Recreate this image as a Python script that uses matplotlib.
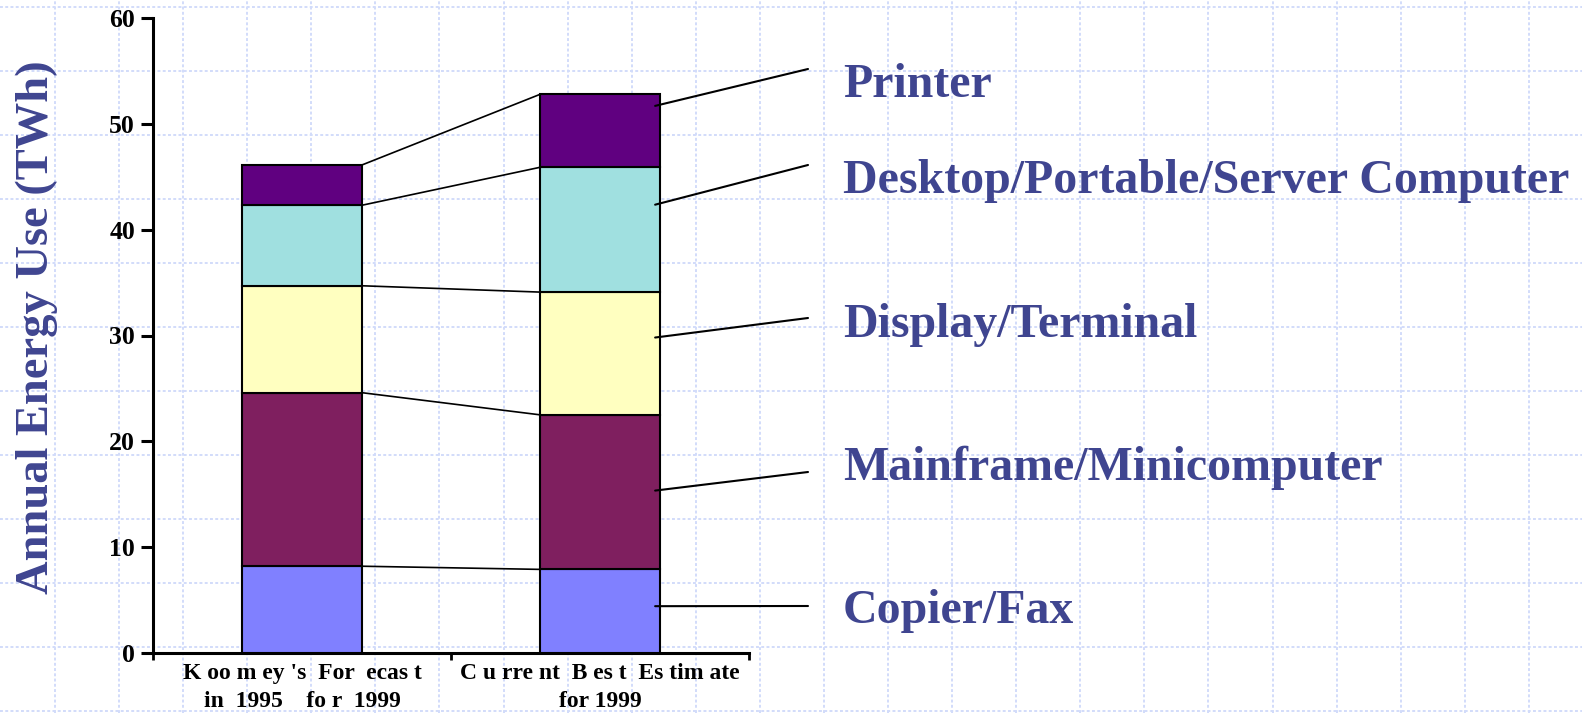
import numpy as np
import matplotlib.pyplot as plt

# data (TWh)
categories = ["K oo m ey 's  For  ecas t\nin  1995    fo r  1999",
              "C u rre nt  B es t  Es tim ate\nfor 1999"]
segments = ["Copier/Fax", "Mainframe/Minicomputer", "Display/Terminal",
            "Desktop/Portable/Server Computer", "Printer"]
copier = [8.2, 7.9]
mainframe = [16.4, 14.6]
display = [10.1, 11.6]
desktop = [7.6, 11.8]
printer = [3.8, 6.9]
yticks = [0, 10, 20, 30, 40, 50, 60]

colors = ['#8080FF', '#7F1F5F', '#FFFFC0', '#A0E0E0', '#600080']
label_color = '#3F4590'
serif = 'Liberation Serif'

W, H = 1582, 713
fig = plt.figure(figsize=(W / 100, H / 100), dpi=100)

# slide background grid
bg = fig.add_axes([0, 0, 1, 1], zorder=0)
bg.set_xlim(0, W)
bg.set_ylim(H, 0)
bg.axis('off')
for x in np.arange(55, W, 64.08):
    bg.axvline(x, color='#D2DCFA', lw=1.4, ls=(0, (1.5, 1.2)))
for y in np.arange(7, H + 2, 64.0):
    bg.axhline(y, color='#D2DCFA', lw=1.4, ls=(0, (1.5, 1.2)))

ax = fig.add_axes([153 / W, 1 - 653 / H, (749 - 153) / W, (653 - 18) / H], zorder=1)
ax.set_facecolor('none')

values = [copier, mainframe, display, desktop, printer]
x = np.arange(len(categories))
bw = 0.4
bottom = np.zeros(len(categories))
tops = []
for name, vals, c in zip(segments, values, colors):
    ax.bar(x, vals, bw, bottom=bottom, color=c, edgecolor='black', lw=1.5, zorder=3)
    bottom = bottom + np.array(vals)
    tops.append(bottom.copy())

# connector lines between the two stacks
for t in tops:
    ax.plot([x[0] + bw / 2, x[1] - bw / 2], [t[0], t[1]], color='black', lw=1.2, zorder=2)

ax.set_xlim(-0.5, 1.5)
ax.set_ylim(0, 60)
ax.set_yticks(yticks)
ax.set_yticklabels([str(v) for v in yticks], fontsize=18.5, fontweight='bold', family=serif)
ax.set_xticks(x)
ax.set_xticklabels(categories, fontsize=17, fontweight='bold', family=serif, linespacing=1.45)
ax.set_xticks([-0.5, 0.5, 1.5], minor=True)
ax.tick_params(axis='x', which='major', length=0, pad=7)
ax.tick_params(axis='x', which='minor', length=5, width=2, direction='out')
ax.tick_params(axis='y', length=9, width=2.2, direction='out', pad=4)
for side in ['top', 'right']:
    ax.spines[side].set_visible(False)
for side in ['left', 'bottom']:
    ax.spines[side].set_linewidth(2.2)

# leader lines and segment labels on the right
leader_frac = [0.56, 0.51, 0.63, 0.70, 0.84]
leader_end = [606, 472, 318, 165, 69]
label_base = [623, 480, 337, 193, 97]
seg_bottom = 0.0
for name, vals, frac, ye, yb in zip(segments, values, leader_frac, leader_end, label_base):
    y0 = seg_bottom + frac * vals[1]
    seg_bottom += vals[1]
    ax.annotate('', xy=(x[1] + bw / 2 - 0.015, y0), xycoords='data',
                xytext=(808, H - ye), textcoords='figure pixels',
                arrowprops=dict(arrowstyle='-', lw=1.5, color='black', shrinkA=0, shrinkB=0),
                annotation_clip=False, zorder=4)
    fig.text(843 / W, 1 - yb / H, name, fontsize=34.5, fontweight='bold', family=serif,
             color=label_color, ha='left', va='baseline')

fig.text(37 / W, 1 - 327 / H, 'Annual Energy Use (TWh)', rotation=90, fontsize=33.5,
         fontweight='bold', family=serif, color=label_color, ha='center', va='center')

fig.savefig('out.png', dpi=100)
plt.close()
